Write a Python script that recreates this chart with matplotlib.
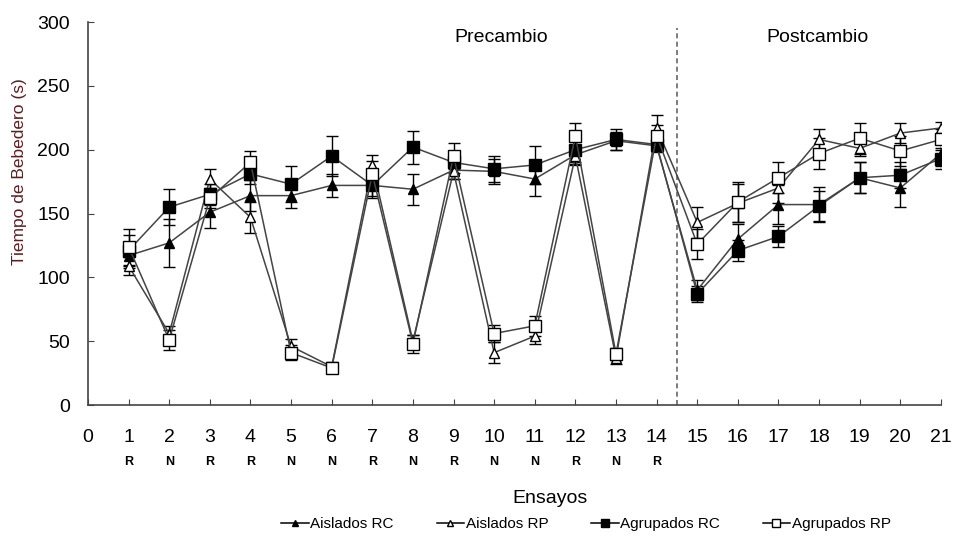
import matplotlib
matplotlib.use("Agg")
import matplotlib.pyplot as plt
from matplotlib.lines import Line2D
import numpy as np

plt.rcParams["font.family"] = ["Liberation Sans", "DejaVu Sans"]

ensayos = np.arange(1, 22)
tipo = ["R", "N", "R", "R", "N", "N", "R", "N", "R", "N", "N", "R", "N", "R"]

aislados_rc = [117, 127, 151, 164, 164, 172, 172, 169, 184, 183, 177, 196, 207, 203,
               90, 130, 157, 157, 178, 170, 197]
aislados_rc_err = [10, 19, 12, 12, 10, 9, 8, 12, 7, 10, 13, 8, 7, 5,
                   8, 12, 15, 14, 12, 15, 10]
aislados_rp = [109, 56, 177, 147, 46, 30, 188, 50, 183, 41, 54, 195, 37, 217,
               143, 158, 170, 208, 201, 213, 217]
aislados_rp_err = [7, 6, 8, 12, 6, 4, 8, 5, 6, 8, 6, 6, 5, 10,
                   12, 15, 12, 8, 6, 8, 5]
agrupados_rc = [121, 155, 165, 181, 173, 195, 172, 202, 190, 185, 188, 200, 208, 204,
                87, 121, 132, 156, 178, 180, 193]
agrupados_rc_err = [12, 14, 8, 8, 14, 16, 10, 13, 8, 10, 15, 10, 8, 5,
                    6, 8, 8, 12, 12, 10, 8]
agrupados_rp = [124, 51, 162, 190, 41, 29, 181, 48, 195, 56, 62, 211, 40, 211,
                126, 159, 178, 197, 209, 199, 208]
agrupados_rp_err = [14, 8, 8, 9, 6, 4, 10, 7, 10, 7, 8, 10, 5, 8,
                    12, 16, 12, 12, 12, 12, 8]

series = [
    ("Aislados RC", aislados_rc, aislados_rc_err, "^", "black", 7),
    ("Aislados RP", aislados_rp, aislados_rp_err, "^", "white", 7),
    ("Agrupados RC", agrupados_rc, agrupados_rc_err, "s", "black", 8),
    ("Agrupados RP", agrupados_rp, agrupados_rp_err, "s", "white", 8),
]

fig = plt.figure(figsize=(9.55, 5.38), dpi=100)
ax = fig.add_axes([0.0921, 0.2472, 0.8932, 0.7119])

handles = []
for label, vals, err, mk, fc, ms in series:
    ax.errorbar(ensayos, vals, yerr=err, color="#444444", lw=1.1,
                marker=mk, markersize=ms, markerfacecolor=fc,
                markeredgecolor="black", markeredgewidth=1.0,
                ecolor="black", elinewidth=1.0, capsize=4, capthick=1.0)
    # legend shows line + marker only, no error bars
    handles.append(Line2D([], [], color="black", lw=1.1, marker=mk,
                          markersize=ms - 2, markerfacecolor=fc,
                          markeredgecolor="black", label=label))

ax.axvline(14.5, ymax=0.985, color="#666666", lw=1.2, ls=(0, (3, 2)))

ax.set_xlim(0, 21)
ax.set_ylim(0, 300)
ax.set_xticks(range(0, 22))
ax.set_yticks(range(0, 301, 50))
ax.tick_params(direction="in", length=4, colors="#444444", labelcolor="black",
               labelsize=14)
ax.tick_params(axis="x", pad=17)
ax.tick_params(axis="y", pad=13)
for side in ["top", "right"]:
    ax.spines[side].set_visible(False)
for side in ["left", "bottom"]:
    ax.spines[side].set_color("#444444")
    ax.spines[side].set_linewidth(1.2)

for i, t in enumerate(tipo):
    ax.text(i + 1, -0.148, t, transform=ax.get_xaxis_transform(),
            ha="center", va="center", fontsize=9, fontweight="bold")

ax.text(10.17, 288, "Precambio", ha="center", va="center", fontsize=14)
ax.text(17.96, 288, "Postcambio", ha="center", va="center", fontsize=14)

ax.set_xlabel("Ensayos", fontsize=14)
ax.xaxis.set_label_coords(0.5416, -0.222)
ax.set_ylabel("Tiempo de Bebedero (s)", fontsize=12.5, color="#5a2020")
ax.yaxis.set_label_coords(-0.071, 0.61)

fig.legend(handles=handles, loc="center", bbox_to_anchor=(586 / 955, 0.026),
           ncol=4, frameon=False, fontsize=11, handlelength=1.8,
           handletextpad=0.1, columnspacing=2.8)

fig.savefig("out.png", dpi=100)
